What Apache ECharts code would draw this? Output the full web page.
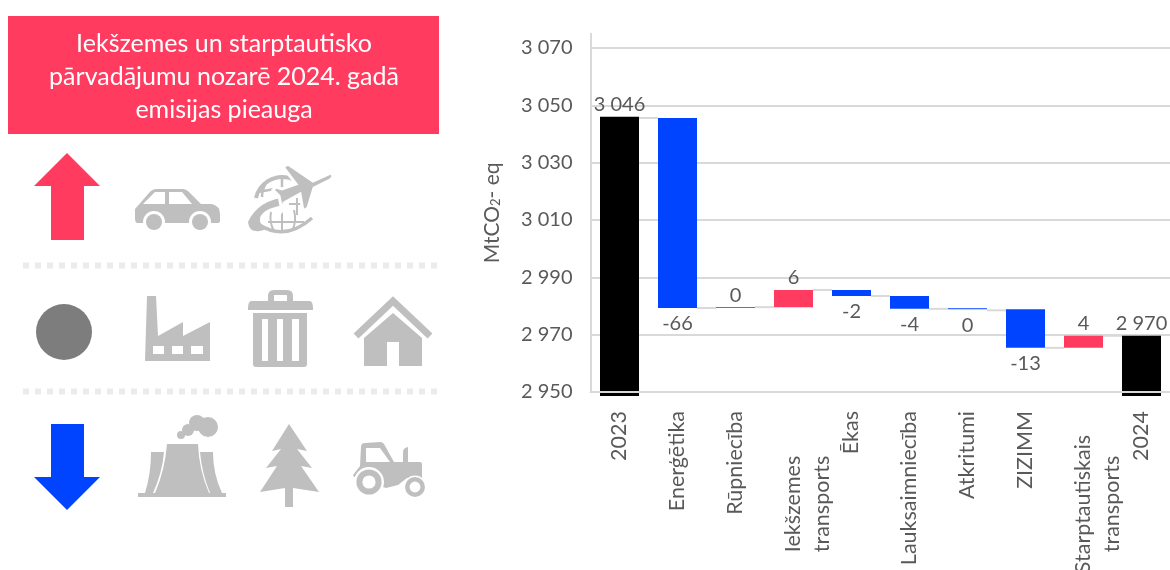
<!DOCTYPE html>
<html>
<head>
<meta charset="utf-8">
<style>
  html, body { margin: 0; padding: 0; background: #fff; }
  #chart { width: 1170px; height: 570px; }
</style>
<script src="https://cdn.jsdelivr.net/npm/echarts@6/dist/echarts.min.js"></script>
</head>
<body>
<div id="chart"></div>
<script>
const categories = ["2023", "Enerģētika", "Rūpniecība", "Iekšzemes\ntransports", "Ēkas", "Lauksaimniecība", "Atkritumi", "ZIZIMM", "Starptautiskais\ntransports", "2024"];
const barStart = [2948.6, 2979.3, 2979.3, 2979.6, 2983.5, 2979.0, 2978.9, 2965.4, 2965.4, 2948.6];
const totals = [97.4, "-", "-", "-", "-", "-", "-", "-", "-", 21.0];
const decreases = ["-", 66.3, 0.3, "-", 2.1, 4.5, 0.3, 13.5, "-", "-"];
const increases = ["-", "-", "-", 6.0, "-", "-", "-", "-", 4.2, "-"];
const connectors = [3045.6, 2979.3, 2979.6, 2985.6, 2983.5, 2979.0, 2978.5, 2965.4, 2969.6];
const pointLabels = ["3 046", "-66", "0", "6", "-2", "-4", "0", "-13", "4", "2 970"];
const labelSides = ["top", "bottom", "top", "top", "bottom", "bottom", "bottom", "bottom", "top", "top"];
const yTicks = [2950, 2970, 2990, 3010, 3030, 3050, 3070];
const headline = "Iekšzemes un starptautisko\npārvadājumu nozarē 2024. gadā\nemisijas pieauga";

const FONT = "Lato";
const GREY = "#595959";
const LINE = "#d9d9d9";
const ICON = "#bfbfbf";
const RED = "#ff3b5f";
const BLUE = "#0044ff";

function labelled(values) {
  return values.map(function (v, i) {
    if (v === "-") return v;
    return {
      value: v,
      label: {
        show: true,
        position: labelSides[i],
        distance: labelSides[i] === "bottom" ? 6 : 2,
        formatter: pointLabels[i],
        fontFamily: FONT,
        fontSize: 20,
        color: GREY,
      },
    };
  });
}

function barSeries(name, values, color) {
  return {
    name: name,
    type: "bar",
    stack: "fall",
    barWidth: 39,
    clip: false,
    itemStyle: { color: color },
    data: labelled(values),
  };
}

// two line categories sit lower down and start at the tick, as in the picture
const xAxisData = categories.map(function (c) {
  if (c.indexOf("\n") < 0) return c;
  return { value: c, textStyle: { align: "center", padding: [0, 186, 0, 0] } };
});

// left panel icons, in picture pixels
function path(d, fill) {
  return { type: "path", shape: { pathData: d }, style: { fill: fill || ICON } };
}
function circle(cx, cy, r, fill) {
  return { type: "circle", shape: { cx: cx, cy: cy, r: r }, style: { fill: fill || ICON } };
}
function rect(x, y, w, h, fill) {
  return { type: "rect", shape: { x: x, y: y, width: w, height: h }, style: { fill: fill || ICON } };
}
function stroke(d, w, color) {
  return { type: "path", shape: { pathData: d }, style: { fill: "none", stroke: color || ICON, lineWidth: w } };
}
function ring(cx, cy, r, w) {
  return { type: "circle", shape: { cx: cx, cy: cy, r: r }, style: { fill: "#fff", stroke: ICON, lineWidth: w } };
}
function dots(y) {
  return {
    type: "line",
    shape: { x1: 23, y1: y, x2: 438, y2: y },
    style: { stroke: "#ebebeb", lineWidth: 6, lineDash: [6, 6] },
  };
}

const panel = [
  rect(8, 16, 431, 118, RED),
  {
    type: "text",
    x: 224,
    y: 77,
    style: {
      text: headline,
      fill: "#fff",
      font: "25px " + FONT,
      align: "center",
      verticalAlign: "middle",
      lineHeight: 33,
    },
  },
  dots(265.5),
  dots(391.5),
];

const planeShape = "M331,173 Q335,177 330,180 L314,188 L308,208 L303,211 L300,194 L284,203 L283,210 L282,211 L279,196 L273,190 L276,187 L282,189 L296,184 L283,167 L288,164 L313,181 Z";

const icons = [
  path("M67,153 L100,186 L84,186 L84,240 L51,240 L51,186 L34,186 Z", RED),
  path("M51,424 L84,424 L84,477 L100,477 L67,510 L34,477 L51,477 Z", BLUE),
  circle(64, 332, 28, "#7d7d7d"),
  // car
  path("M135,209 L149,193 Q152,189 157,189 L183,189 Q186,189 189,192 L201,204 L212,204 Q220,206 220,214 L220,221 Q220,223 217,223 L137,223 Q135,222 135,219 Z"),
  path("M143,204 L155,192 L165,192 L165,204 Z", "#fff"),
  path("M169,192 L182,192 L192,204 L169,204 Z", "#fff"),
  circle(154, 222, 11, "#fff"),
  circle(200, 222, 11, "#fff"),
  circle(154, 222, 8),
  circle(200, 222, 8),
  // globe and plane
  stroke("M256,198 A27,27 0 0 1 298,182", 4),
  stroke("M282,178 L282,190 M268,180 Q262,188 262,197 M258,192 L280,188", 2.5),
  stroke("M282,212 L282,231 M268,222 L304,222 M271,212 Q269,222 274,231 M294,210 Q297,222 292,231", 2),
  stroke("M297,198 L297,215 M289,204 L305,204", 2),
  stroke("M258,224 Q285,242 312,218", 3.5),
  path("M287,197 Q258,200 248,222 Q249,231 256,231 Q262,232 268,228 Q259,226 260,218 Q263,208 285,205 Z"),
  { type: "path", shape: { pathData: planeShape }, style: { fill: ICON, stroke: "#fff", lineWidth: 3 } },
  // factory
  path("M147,296 L156,296 L158,336 L183,322 L183,336 L210,322 L210,361 L145,361 Z"),
  rect(153, 346, 11, 8, "#fff"),
  rect(172, 346, 11, 8, "#fff"),
  rect(191, 346, 12, 8, "#fff"),
  // bin
  path("M268,301 L268,296 Q268,290 274,290 L287,290 Q293,290 293,296 L293,301 L310,301 Q313,302 313,308 L313,310 L248,310 L248,308 Q248,302 251,301 Z"),
  rect(274, 295, 13, 6, "#fff"),
  path("M253,313 L307,313 L307,364 Q307,367 304,367 L256,367 Q253,367 253,364 Z"),
  rect(262, 319, 6, 42, "#fff"),
  rect(277, 319, 6, 42, "#fff"),
  rect(292, 319, 7, 42, "#fff"),
  // house
  stroke("M356,336 L393,301 L430,336", 7),
  path("M393,313 L422,338 L422,366 L399,366 L399,342 L387,342 L387,366 L364,366 L364,338 Z"),
  // power plant
  rect(138, 493, 88, 4),
  path("M167,444 L198,444 Q199,470 209,493 L155,493 Q165,470 167,444 Z"),
  path("M151,452 L164,452 Q162,474 153,493 L145,493 Q151,474 151,452 Z"),
  path("M200,452 L213,452 Q213,474 222,493 L210,493 Q202,474 200,452 Z"),
  circle(181, 435, 4),
  circle(188, 430, 6),
  circle(197, 423, 8),
  circle(208, 427, 10),
  // tree
  path("M289,424 L307,451 L297,449 L312,468 L301,466 L319,492 L293,488 L293,507 L285,507 L285,488 L260,492 L277,466 L266,468 L281,449 L272,451 Z"),
  // tractor
  path("M361,447 Q361,443 365,443 L380,442 Q383,442 384,444 L394,462 L403,462 L403,452 Q403,448 408,447 L408,462 L420,462 Q422,462 422,465 L422,478 L407,478 L398,485 L386,488 L383,487 L382,475 L354,477 L353,475 L360,466 Z"),
  path("M366,448 L380,448 L390,462 L366,462 Z", "#fff"),
  circle(369, 482, 15, "#fff"),
  circle(415, 487, 11.5, "#fff"),
  ring(369, 482, 9.6, 6),
  ring(415, 487, 7.7, 4.5),
];

const option = {
  backgroundColor: "#fff",
  animation: false,
  textStyle: { fontFamily: FONT },
  grid: { left: 590.5, top: 33.7, width: 580, height: 358.3, outerBoundsMode: "none" },
  xAxis: {
    type: "category",
    data: xAxisData,
    z: 5,
    axisTick: { show: false },
    axisLine: { lineStyle: { color: LINE, width: 2 } },
    axisLabel: {
      interval: 0,
      rotate: 90,
      margin: 19,
      fontFamily: FONT,
      fontSize: 21.5,
      lineHeight: 29,
      color: GREY,
      formatter: function (v) {
        return v.indexOf("\n") < 0 ? v : " \n" + v;
      },
    },
  },
  yAxis: {
    type: "value",
    min: 2950,
    max: 3075,
    interval: 20,
    name: "MtCO{sub|2}- eq",
    nameLocation: "middle",
    nameGap: 88,
    nameTextStyle: {
      fontFamily: FONT,
      fontSize: 21,
      color: GREY,
      rich: { sub: { fontSize: 13, color: GREY, padding: [8, 0, 0, 0], fontFamily: FONT } },
    },
    axisLine: { show: true, lineStyle: { color: LINE, width: 2 } },
    axisTick: { show: false },
    axisLabel: {
      margin: 18,
      showMaxLabel: false,
      fontFamily: FONT,
      fontSize: 20,
      color: GREY,
      formatter: function (v) {
        return yTicks.indexOf(v) < 0 ? "" : String(v).replace(/^(\d)(\d{3})$/, "$1 $2");
      },
    },
    splitLine: { show: true, showMinLine: false, showMaxLine: false, lineStyle: { color: LINE, width: 2 } },
  },
  series: [
    {
      name: "base",
      type: "bar",
      stack: "fall",
      barWidth: 39,
      clip: false,
      silent: true,
      itemStyle: { color: "transparent" },
      data: barStart,
    },
    barSeries("total", totals, "#000"),
    barSeries("decrease", decreases, BLUE),
    barSeries("increase", increases, RED),
    {
      name: "connector",
      type: "custom",
      clip: false,
      silent: true,
      z: 1,
      data: connectors.map(function (v, i) { return [i, v]; }),
      encode: { x: 0, y: 1 },
      renderItem: function (params, api) {
        const p = api.coord([api.value(0), api.value(1)]);
        const band = api.size([1, 0])[0];
        return {
          type: "line",
          shape: { x1: p[0] + 19.5, y1: p[1], x2: p[0] + band - 19.5, y2: p[1] },
          style: { stroke: LINE, lineWidth: 2 },
        };
      },
    },
    {
      name: "icons",
      type: "custom",
      coordinateSystem: "none",
      silent: true,
      data: [[0]],
      renderItem: function () {
        return { type: "group", children: icons };
      },
    },
  ],
  graphic: { elements: panel },
};

const myChart = echarts.init(document.getElementById("chart"), null, { renderer: "canvas" });
myChart.setOption(option);
</script>
</body>
</html>
